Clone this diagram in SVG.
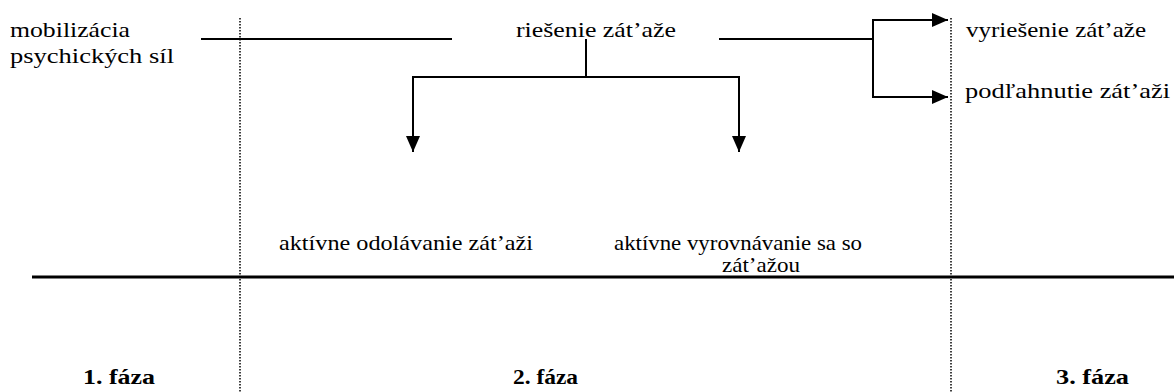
<svg xmlns="http://www.w3.org/2000/svg" width="1174" height="392" viewBox="0 0 1174 392" font-family="Liberation Serif, Times New Roman, DejaVu Serif, serif">
  <style>
    text { font-size: 21px; fill: #000; }
    .phase { font-weight: bold; }
    .line { stroke: #000; stroke-width: 2; fill: none; }
    .rule { stroke: #000; stroke-width: 3; fill: none; }
    .dotted { stroke: #000; stroke-width: 1.5; stroke-dasharray: 1.5 1.5; fill: none; }
  </style>
  <defs>
    <marker id="arrow" viewBox="0 0 16 14" refX="16" refY="7" markerWidth="16" markerHeight="14" markerUnits="userSpaceOnUse" orient="auto">
      <path d="M0,0 L16,7 L0,14 Z" fill="#000"/>
    </marker>
  </defs>

  <!-- phase separators and baseline rule -->
  <g id="frame">
    <line class="dotted" x1="240" y1="18" x2="240" y2="392"/>
    <line class="dotted" x1="951" y1="18" x2="951" y2="392"/>
    <line class="rule" x1="32" y1="277" x2="1174" y2="277"/>
  </g>

  <g id="connectors">
    <line class="line" x1="201" y1="39" x2="452" y2="39"/>
    <line class="line" x1="719" y1="39" x2="873" y2="39"/>
    <polyline class="line" points="873,20 873,97"/>
    <line class="line" x1="872" y1="20" x2="948" y2="20" marker-end="url(#arrow)"/>
    <line class="line" x1="872" y1="97" x2="948" y2="97" marker-end="url(#arrow)"/>
    <line class="line" x1="586" y1="39" x2="586" y2="77"/>
    <line class="line" x1="412" y1="77" x2="740" y2="77"/>
    <line class="line" x1="413" y1="76" x2="413" y2="152" marker-end="url(#arrow)"/>
    <line class="line" x1="739" y1="76" x2="739" y2="152" marker-end="url(#arrow)"/>
  </g>

  <g id="mobilization">
    <text x="10" y="37" textLength="120" lengthAdjust="spacingAndGlyphs">mobilizácia</text>
    <text x="10" y="63" textLength="164" lengthAdjust="spacingAndGlyphs">psychických síl</text>
  </g>
  <g id="coping">
    <text x="516" y="37" textLength="160" lengthAdjust="spacingAndGlyphs">riešenie zát’aže</text>
  </g>
  <g id="resolved">
    <text x="966" y="37" textLength="180" lengthAdjust="spacingAndGlyphs">vyriešenie zát’aže</text>
  </g>
  <g id="succumbed">
    <text x="965" y="98" textLength="205" lengthAdjust="spacingAndGlyphs">podľahnutie zát’aži</text>
  </g>
  <g id="resisting">
    <text x="279" y="250" textLength="254" lengthAdjust="spacingAndGlyphs">aktívne odolávanie zát’aži</text>
  </g>
  <g id="dealing">
    <text x="614" y="250" textLength="248" lengthAdjust="spacingAndGlyphs">aktívne vyrovnávanie sa so</text>
    <text x="722" y="272" textLength="78" lengthAdjust="spacingAndGlyphs">zát’ažou</text>
  </g>

  <g id="phases">
    <text class="phase" x="83" y="384" textLength="72" lengthAdjust="spacingAndGlyphs">1. fáza</text>
    <text class="phase" x="513" y="384" textLength="65" lengthAdjust="spacingAndGlyphs">2. fáza</text>
    <text class="phase" x="1056" y="384" textLength="73" lengthAdjust="spacingAndGlyphs">3. fáza</text>
  </g>
</svg>
